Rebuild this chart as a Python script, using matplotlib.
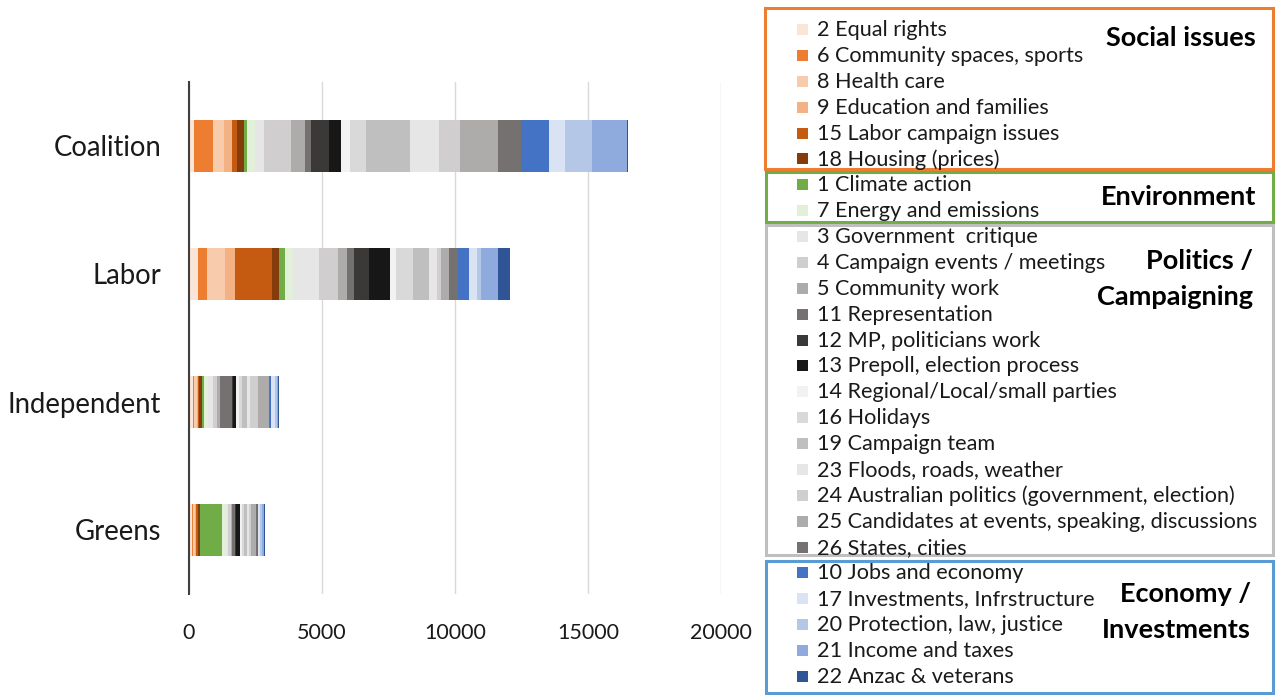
import numpy as np
import matplotlib
matplotlib.use("Agg")
import matplotlib.pyplot as plt
from matplotlib.patches import Rectangle

plt.rcParams['font.family'] = ['Lato', 'DejaVu Sans']

parties = ["Coalition", "Labor", "Independent", "Greens"]

topics = ["2 Equal rights", "6 Community spaces, sports", "8 Health care",
          "9 Education and families", "15 Labor campaign issues", "18 Housing (prices)",
          "1 Climate action", "7 Energy and emissions",
          "3 Government  critique", "4 Campaign events / meetings", "5 Community work",
          "11 Representation", "12 MP, politicians work", "13 Prepoll, election process",
          "14 Regional/Local/small parties", "16 Holidays", "19 Campaign team",
          "23 Floods, roads, weather", "24 Australian politics (government, election)",
          "25 Candidates at events, speaking, discussions", "26 States, cities",
          "10 Jobs and economy", "17 Investments, Infrstructure", "20 Protection, law, justice",
          "21 Income and taxes", "22 Anzac & veterans"]

colors = ["#FBE5D6", "#ED7D31", "#F8CBAD", "#F4B183", "#C55A11", "#843C0C",
          "#70AD47", "#E2F0D9",
          "#E7E6E6", "#D0CECE", "#AEABAB", "#767171", "#3B3838", "#171717",
          "#F2F2F2", "#D9D9D9", "#BFBFBF", "#E7E6E6", "#D0CECE", "#AEABAB", "#767171",
          "#4472C4", "#DAE3F3", "#B4C7E7", "#8FAADC", "#2F5597"]

# values per party, in legend (stack) order
coalition = [190, 730, 400, 290, 190, 275, 90, 325, 315, 1040, 525, 200, 680, 450,
             350, 615, 1655, 1065, 790, 1440, 877, 1053, 600, 1003, 1316, 30]
labor = [330, 350, 677, 365, 1404, 275, 200, 290, 1003, 714, 325, 275, 564, 790,
         213, 652, 602, 313, 150, 290, 313, 440, 290, 163, 627, 440]
independent = [150, 50, 88, 63, 38, 88, 100, 150, 188, 125, 113, 475, 38, 113,
               88, 125, 188, 125, 288, 400, 63, 38, 125, 75, 38, 38]
greens = [100, 50, 75, 50, 50, 75, 825, 175, 75, 88, 63, 100, 25, 163,
          63, 100, 113, 75, 63, 188, 25, 63, 75, 75, 75, 25]

groups = [("Social issues", "#ED7D31"),
          ("Environment", "#70AD47"),
          ("Politics /\nCampaigning", "#BFBFBF"),
          ("Economy /\nInvestments", "#5B9BD5")]

W, H = 1279, 695
fig = plt.figure(figsize=(W / 100, H / 100), dpi=100)

def px_axes(l, t, r, b):
    return fig.add_axes([l / W, 1 - b / H, (r - l) / W, (b - t) / H])

ax = px_axes(189, 82, 721, 594)
data = np.array([coalition, labor, independent, greens])
y = np.arange(len(parties))
left = np.zeros(len(parties))
for j in range(len(topics)):
    ax.barh(y, data[:, j], left=left, height=0.4, color=colors[j], zorder=3)
    left += data[:, j]

ax.set_xlim(0, 20000)
ax.set_ylim(3.5, -0.5)
ax.set_yticks(y)
ax.set_yticklabels(parties, fontsize=19.8, color="#1a1a1a")
ax.set_xticks([0, 5000, 10000, 15000, 20000])
ax.tick_params(axis='x', length=0, pad=21, labelsize=15.5, labelcolor="#1a1a1a")
ax.tick_params(axis='y', length=0, pad=20)
ax.grid(axis='x', color="#D9D9D9", linewidth=1, zorder=0)
for s in ["top", "right", "bottom"]:
    ax.spines[s].set_visible(False)
ax.spines["left"].set_color("#3F3F3F")
ax.spines["left"].set_linewidth(1.5)
ax.spines["left"].set_zorder(4)

# legend panel in pixel coordinates
lg = px_axes(0, 0, W, H)
lg.set_xlim(0, W)
lg.set_ylim(H, 0)
lg.axis("off")
lg.patch.set_alpha(0)

boxes = [(765, 8, 169), (766, 172, 222), (766, 225, 555), (766, 561, 693)]
for (title, ec), (bx, top, bot) in zip(groups, boxes):
    lg.add_patch(Rectangle((bx, top), 1273 - bx, bot - top, fill=False,
                           edgecolor=ec, linewidth=2.2))
for i, (lab, c) in enumerate(zip(topics, colors)):
    yy = 29.5 + i * 25.88
    lg.add_patch(Rectangle((797, yy - 5.5), 11, 11, facecolor=c, edgecolor="none"))
    lg.text(817, yy + 0.5, lab, fontsize=15.6, va="center", ha="left", color="#1a1a1a")

tkw = dict(fontsize=19.5, fontweight="bold", ha="right", va="center",
           multialignment="right", linespacing=1.62)
lg.text(1256, 38, "Social issues", **tkw)
lg.text(1256, 197, "Environment", **tkw)
lg.text(1253, 279, "Politics /\nCampaigning", **tkw)
lg.text(1251, 612, "Economy /\nInvestments", **tkw)

fig.savefig("out.png", dpi=100)
